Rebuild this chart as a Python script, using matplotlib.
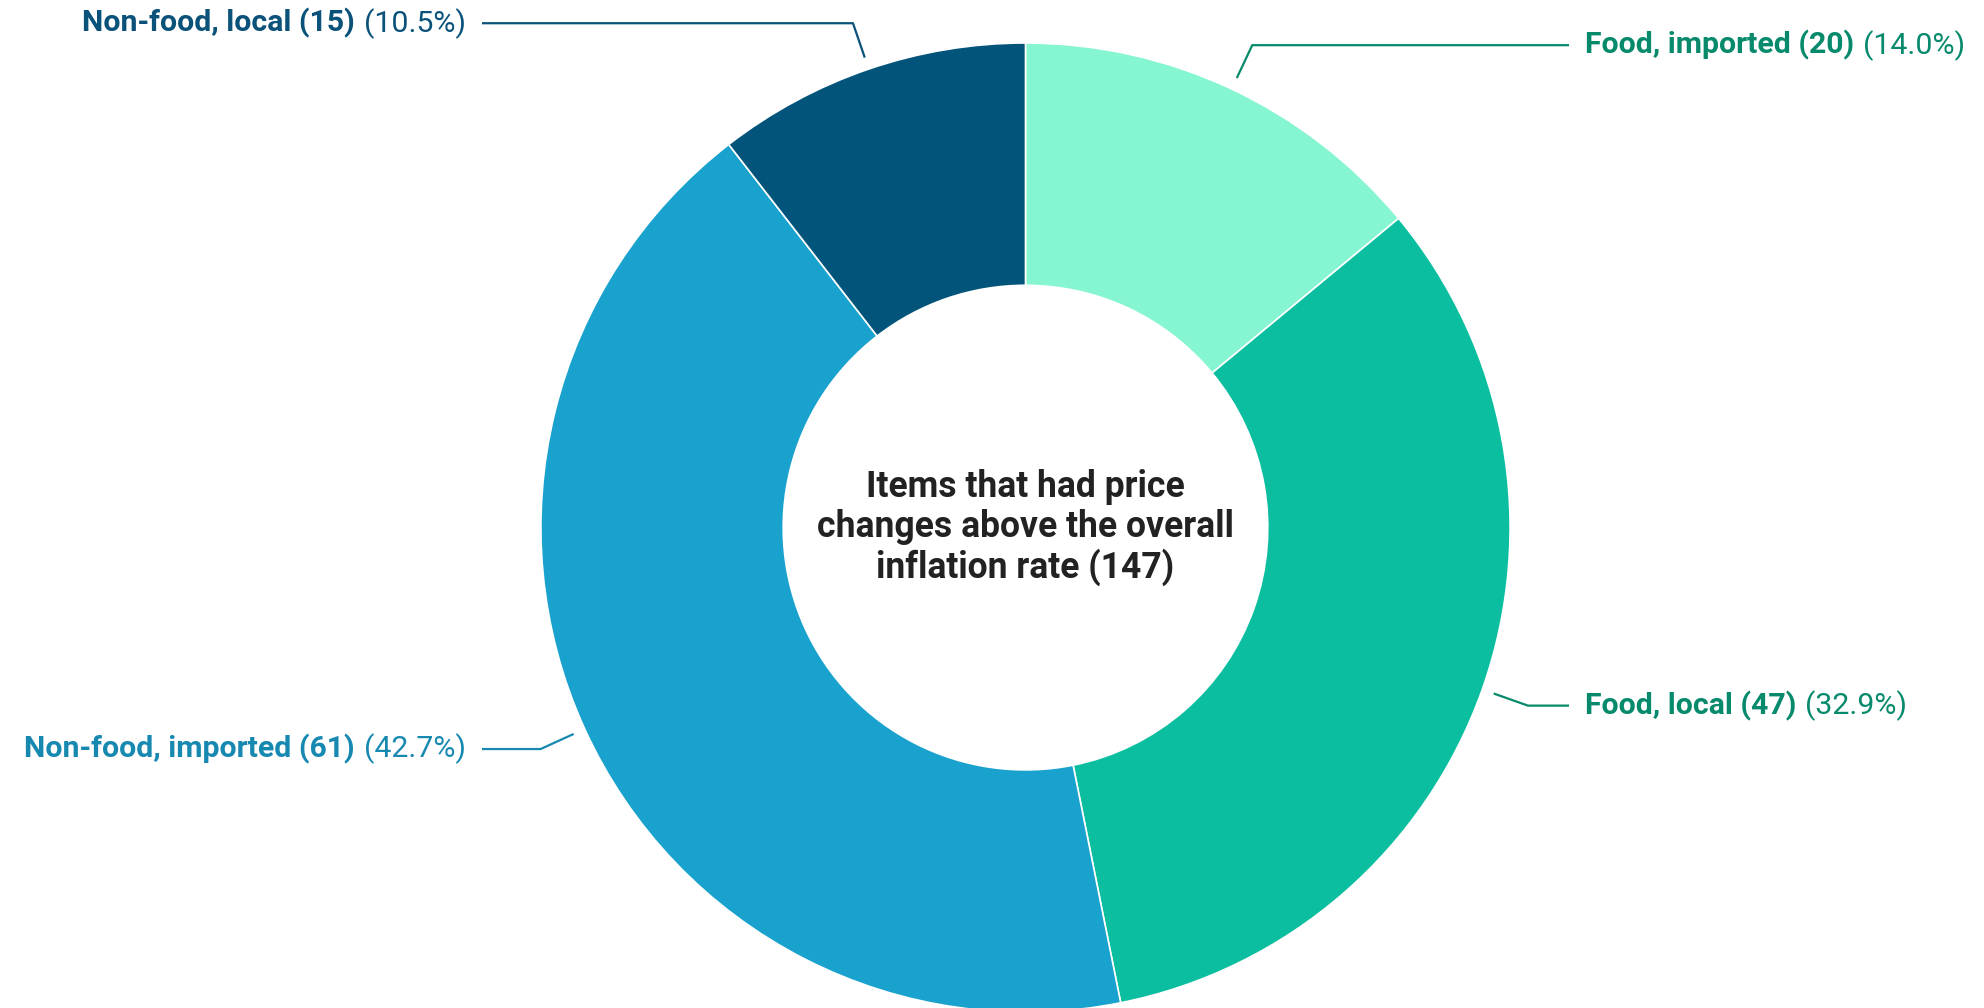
import numpy as np
import matplotlib
matplotlib.use("Agg")
import matplotlib.pyplot as plt

# ---- data ----
categories = ["Food, imported", "Food, local", "Non-food, imported", "Non-food, local"]
counts = [20, 47, 61, 15]
center_title = "Items that had price\nchanges above the overall\ninflation rate (147)"

wedge_colors = ["#86F5D1", "#0BBEA0", "#1AA2CE", "#02547A"]
label_colors = ["#078A6B", "#078A6B", "#1789B1", "#0A5279"]

W, H = 1984, 1008
fig = plt.figure(figsize=(W / 100, H / 100), dpi=100)
ax = fig.add_axes([0, 0, 1, 1])

cx, cy = 1025.5, H - 527.6
R = 484.6
width = 0.5 * R

wedges, _ = ax.pie(counts, colors=wedge_colors, startangle=90, counterclock=False,
                   center=(cx, cy), radius=R,
                   wedgeprops=dict(width=width, edgecolor="white", linewidth=1.2),
                   frame=True)
ax.set_xlim(0, W)
ax.set_ylim(0, H)
ax.set_aspect("equal")
ax.axis("off")

ax.text(cx, cy, center_title, ha="center", va="center", fontsize=25.6,
        fontweight="bold", family="Roboto", color="#222222", linespacing=1.12)

total = sum(counts)
fs = 21.8
right_x_line, right_x_text = 1569, 1585
left_x_line, left_x_text = 482, 466

fig.canvas.draw()
renderer = fig.canvas.get_renderer()
inv = ax.transData.inverted()

for w, cat, n, lc in zip(wedges, categories, counts, label_colors):
    ang = np.deg2rad((w.theta1 + w.theta2) / 2)
    p0 = (cx + 1.025 * R * np.cos(ang), cy + 1.025 * R * np.sin(ang))
    p1 = (cx + 1.10 * R * np.cos(ang), cy + 1.10 * R * np.sin(ang))
    right = np.cos(ang) > 0
    xe = right_x_line if right else left_x_line
    ax.plot([p0[0], p1[0], xe], [p0[1], p1[1], p1[1]], color=lc, lw=1.6,
            solid_capstyle="butt")
    bold = f"{cat} ({n})"
    norm = f"({100 * n / total:.1f}%)"
    y = p1[1]
    if right:
        t1 = ax.text(right_x_text, y, bold, ha="left", va="center", fontsize=fs,
                     fontweight="bold", family="Roboto", color=lc)
        bb = t1.get_window_extent(renderer)
        x2 = inv.transform((bb.x1, 0))[0] + 9
        ax.text(x2, y, norm, ha="left", va="center", fontsize=fs,
                family="Roboto", color=lc)
    else:
        t2 = ax.text(left_x_text, y, norm, ha="right", va="center", fontsize=fs,
                     family="Roboto", color=lc)
        bb = t2.get_window_extent(renderer)
        x1 = inv.transform((bb.x0, 0))[0] - 9
        ax.text(x1, y, bold, ha="right", va="center", fontsize=fs,
                fontweight="bold", family="Roboto", color=lc)

fig.savefig("out.png", dpi=100, facecolor="white")
